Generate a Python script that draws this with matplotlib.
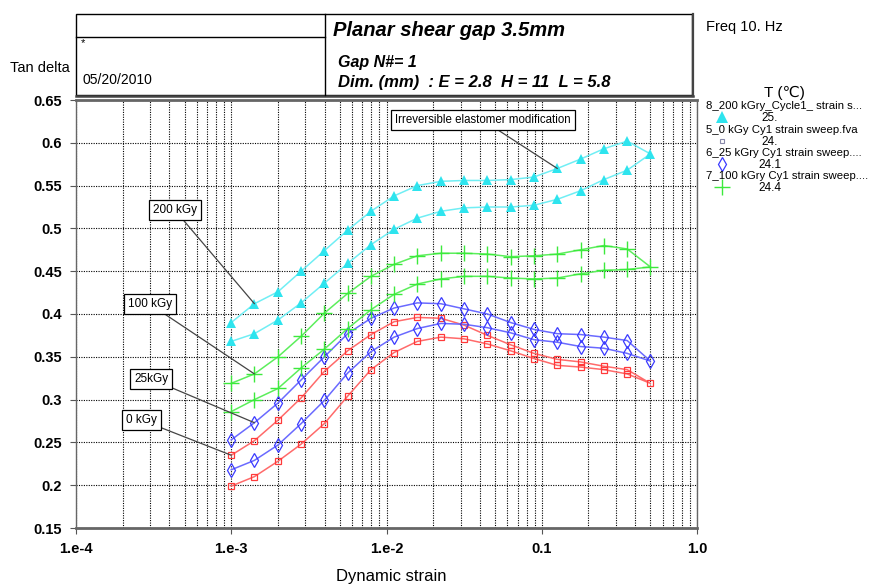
import matplotlib
matplotlib.use("Agg")
import matplotlib.pyplot as plt
from matplotlib.lines import Line2D
from matplotlib.patches import Rectangle
from matplotlib.ticker import FixedLocator, FixedFormatter, LogLocator, NullFormatter

# ---------------- data ----------------
strain = [0.001, 0.00141, 0.002, 0.00282, 0.00398, 0.00562, 0.00794, 0.0112, 0.0158,
          0.0224, 0.0316, 0.0447, 0.0631, 0.0891, 0.126, 0.178, 0.251, 0.355, 0.501]

# first sweep (lower branch, all 19 points) and second sweep (upper branch, first 18 points)
kgy200_a = [0.368, 0.377, 0.393, 0.413, 0.436, 0.459, 0.481, 0.499, 0.512, 0.520,
            0.524, 0.525, 0.525, 0.527, 0.534, 0.544, 0.557, 0.568, 0.587]
kgy200_b = [0.390, 0.412, 0.426, 0.450, 0.474, 0.498, 0.520, 0.538, 0.550, 0.555,
            0.556, 0.556, 0.557, 0.560, 0.570, 0.581, 0.593, 0.602]

kgy100_a = [0.286, 0.300, 0.313, 0.337, 0.359, 0.383, 0.405, 0.423, 0.435, 0.441,
            0.444, 0.444, 0.442, 0.441, 0.442, 0.447, 0.451, 0.452, 0.455]
kgy100_b = [0.319, 0.330, 0.350, 0.374, 0.401, 0.424, 0.444, 0.458, 0.468, 0.471,
            0.471, 0.470, 0.467, 0.468, 0.470, 0.475, 0.480, 0.476]

kgy25_a = [0.218, 0.229, 0.247, 0.272, 0.299, 0.331, 0.356, 0.373, 0.383, 0.389,
           0.388, 0.384, 0.378, 0.370, 0.367, 0.362, 0.360, 0.354, 0.345]
kgy25_b = [0.253, 0.273, 0.296, 0.323, 0.350, 0.377, 0.395, 0.407, 0.413, 0.412,
           0.406, 0.400, 0.390, 0.382, 0.377, 0.376, 0.373, 0.369]

kgy0_a = [0.199, 0.210, 0.228, 0.248, 0.272, 0.304, 0.335, 0.355, 0.368, 0.373,
          0.371, 0.365, 0.357, 0.348, 0.340, 0.338, 0.335, 0.330, 0.319]
kgy0_b = [0.235, 0.252, 0.276, 0.302, 0.333, 0.357, 0.376, 0.391, 0.396, 0.395,
          0.387, 0.375, 0.364, 0.354, 0.347, 0.344, 0.339, 0.335]

legend_names = ["8_200 kGry_Cycle1_ strain s...", "5_0 kGy Cy1 strain sweep.fva",
                "6_25 kGry Cy1 strain sweep....", "7_100 kGry Cy1 strain sweep...."]
legend_temps = ["25.", "24.", "24.1", "24.4"]

xtick_vals = [1e-4, 1e-3, 1e-2, 0.1, 1.0]
xtick_labels = ["1.e-4", "1.e-3", "1.e-2", "0.1", "1.0"]
ytick_vals = [0.15, 0.2, 0.25, 0.3, 0.35, 0.4, 0.45, 0.5, 0.55, 0.6, 0.65]
ytick_labels = ["0.15", "0.2", "0.25", "0.3", "0.35", "0.4", "0.45", "0.5", "0.55", "0.6", "0.65"]

# ---------------- styles ----------------
W, H = 872, 586
FONT = ["Liberation Sans", "DejaVu Sans"]
plt.rcParams['font.family'] = FONT

def fx(px):
    return px / W

def fy(py):
    return 1 - py / H

C_CYAN = "#2EE4EE"
C_GREEN = "#3CEA3C"
C_BLUE = "#3A3AFF"
C_RED = "#FF3A3A"

fig = plt.figure(figsize=(W / 100, H / 100), dpi=100)
ax = fig.add_axes([fx(76), fy(528), (697 - 76) / W, (528 - 100) / H])

def loop(a, b):
    xs = strain + strain[-2::-1]
    ys = a + b[::-1]
    return xs, ys

series = [
    (kgy0_a, kgy0_b, C_RED, dict(marker='s', ms=4.5, mfc='none', mew=0.9), "#FF6A6A"),
    (kgy25_a, kgy25_b, C_BLUE, dict(marker='d', ms=7.5, mfc='none', mew=0.9), "#6A6AFF"),
    (kgy100_a, kgy100_b, C_GREEN, dict(marker='+', ms=11, mew=1.0), "#5CEE5C"),
    (kgy200_a, kgy200_b, C_CYAN, dict(marker='^', ms=7.5, mew=0), "#70EEF4"),
]
for a, b, c, mk, lc in series:
    xs, ys = loop(a, b)
    ax.plot(xs, ys, color=lc, lw=1.1, zorder=3)
    ax.plot(xs, ys, ls='none', color=c, mec=c, zorder=4, **mk)

ax.set_xscale('log')
ax.set_xlim(1e-4, 1.0)
ax.set_ylim(0.15, 0.65)
ax.xaxis.set_major_locator(FixedLocator(xtick_vals))
ax.xaxis.set_major_formatter(FixedFormatter(xtick_labels))
ax.xaxis.set_minor_locator(LogLocator(base=10, subs=range(2, 10)))
ax.xaxis.set_minor_formatter(NullFormatter())
ax.yaxis.set_major_locator(FixedLocator(ytick_vals))
ax.yaxis.set_major_formatter(FixedFormatter(ytick_labels))

ax.grid(True, which='both', axis='x', color='black', ls=(0, (1, 1.2)), lw=0.8)
ax.grid(True, which='major', axis='y', color='black', ls=(0, (1, 1.2)), lw=0.8)
ax.set_axisbelow(True)

for lab in ax.get_xticklabels() + ax.get_yticklabels():
    lab.set_fontweight('bold')
    lab.set_fontsize(10.5)
ax.tick_params(axis='both', which='major', direction='out', length=4, width=0.8, color='#555555', pad=6)
ax.tick_params(axis='x', which='minor', length=0)
for s in ['top', 'bottom']:
    ax.spines[s].set_linewidth(2.0)
    ax.spines[s].set_color('#666666')
for s in ['left', 'right']:
    ax.spines[s].set_linewidth(1.0)
    ax.spines[s].set_color('#666666')

fig.text(fx(391), fy(576), "Dynamic strain", fontsize=12, ha='center', va='center')

# ---------------- annotations ----------------
bbox = dict(boxstyle='square,pad=0.35', fc='white', ec='black', lw=0.9)
arrow = dict(arrowstyle='-', color='#444444', lw=0.9, shrinkA=0, shrinkB=0)
ax.annotate("200 kGy", xy=(strain[1], kgy200_b[1]), xytext=(0.159, 0.743),
            textcoords='axes fraction', fontsize=8.5, ha='center', va='center', bbox=bbox, arrowprops=arrow, zorder=6)
ax.annotate("100 kGy", xy=(strain[1], kgy100_b[1]), xytext=(0.119, 0.523),
            textcoords='axes fraction', fontsize=8.5, ha='center', va='center', bbox=bbox, arrowprops=arrow, zorder=6)
ax.annotate("25kGy", xy=(strain[1], kgy25_b[1]), xytext=(0.121, 0.348),
            textcoords='axes fraction', fontsize=8.5, ha='center', va='center', bbox=bbox, arrowprops=arrow, zorder=6)
ax.annotate("0 kGy", xy=(strain[0], kgy0_b[0]), xytext=(0.106, 0.252),
            textcoords='axes fraction', fontsize=8.5, ha='center', va='center', bbox=bbox, arrowprops=arrow, zorder=6)
ax.annotate("Irreversible elastomer modification", xy=(strain[14], kgy200_b[14]), xytext=(0.655, 0.953),
            textcoords='axes fraction', fontsize=8.3, ha='center', va='center', bbox=bbox, arrowprops=arrow, zorder=6)

# ---------------- header box ----------------
def frect(x0, y0, x1, y1, lw=1.0):
    fig.add_artist(Rectangle((fx(x0), fy(y1)), fx(x1) - fx(x0), fy(y0) - fy(y1),
                             transform=fig.transFigure, fill=False, ec='black', lw=lw))

def fline(x0, y0, x1, y1, lw=1.0, color='black'):
    fig.add_artist(Line2D([fx(x0), fx(x1)], [fy(y0), fy(y1)], transform=fig.transFigure, color=color, lw=lw))

frect(76, 14, 692, 95, lw=1.0)
fline(76, 95.5, 693, 95.5, lw=1.8, color='#444444')
fline(692.5, 14, 692.5, 96, lw=1.6, color='#444444')
fline(325, 14, 325, 95, lw=1.0)
fline(76, 37, 325, 37, lw=1.0)

fig.text(fx(333), fy(30), "Planar shear gap 3.5mm", fontsize=14.5, fontweight='bold', fontstyle='italic',
         ha='left', va='center')
fig.text(fx(338), fy(62), "Gap N#= 1", fontsize=11.5, fontweight='bold', fontstyle='italic',
         ha='left', va='center')
fig.text(fx(338), fy(82), "Dim. (mm)  : E = 2.8  H = 11  L = 5.8", fontsize=12, fontweight='bold',
         fontstyle='italic', ha='left', va='center')
fig.text(fx(81), fy(43), "*", fontsize=8, ha='left', va='center')
fig.text(fx(82), fy(80), "05/20/2010", fontsize=10, ha='left', va='center')
fig.text(fx(10), fy(68), "Tan delta", fontsize=10.5, ha='left', va='center')
fig.text(fx(706), fy(27), "Freq 10. Hz", fontsize=10.5, ha='left', va='center')

# ---------------- legend ----------------
fig.text(fx(784), fy(93), "T (\u2103)", fontsize=11, ha='center', va='center',
         family=["Liberation Sans", "DejaVu Sans", "Noto Sans CJK SC"])
leg_markers = [
    dict(marker='^', ms=8, color=C_CYAN, mec=C_CYAN, mew=0),
    dict(marker='s', ms=3.5, color='#8888aa', mfc='none', mec='#8888aa', mew=0.8),
    dict(marker='d', ms=7.5, color=C_BLUE, mfc='none', mec=C_BLUE, mew=0.9),
    dict(marker='+', ms=12, color=C_GREEN, mec=C_GREEN, mew=1.0),
]
leg_y = [106, 130, 153, 176]
for name, temp, mk, yy in zip(legend_names, legend_temps, leg_markers, leg_y):
    fig.text(fx(706), fy(yy), name, fontsize=8.2, ha='left', va='center')
    fig.add_artist(Line2D([fx(722)], [fy(yy + 11)], transform=fig.transFigure, ls='none', **mk))
    fig.text(fx(770), fy(yy + 12), temp, fontsize=8.5, ha='center', va='center')

fig.savefig("out.png", dpi=100)
